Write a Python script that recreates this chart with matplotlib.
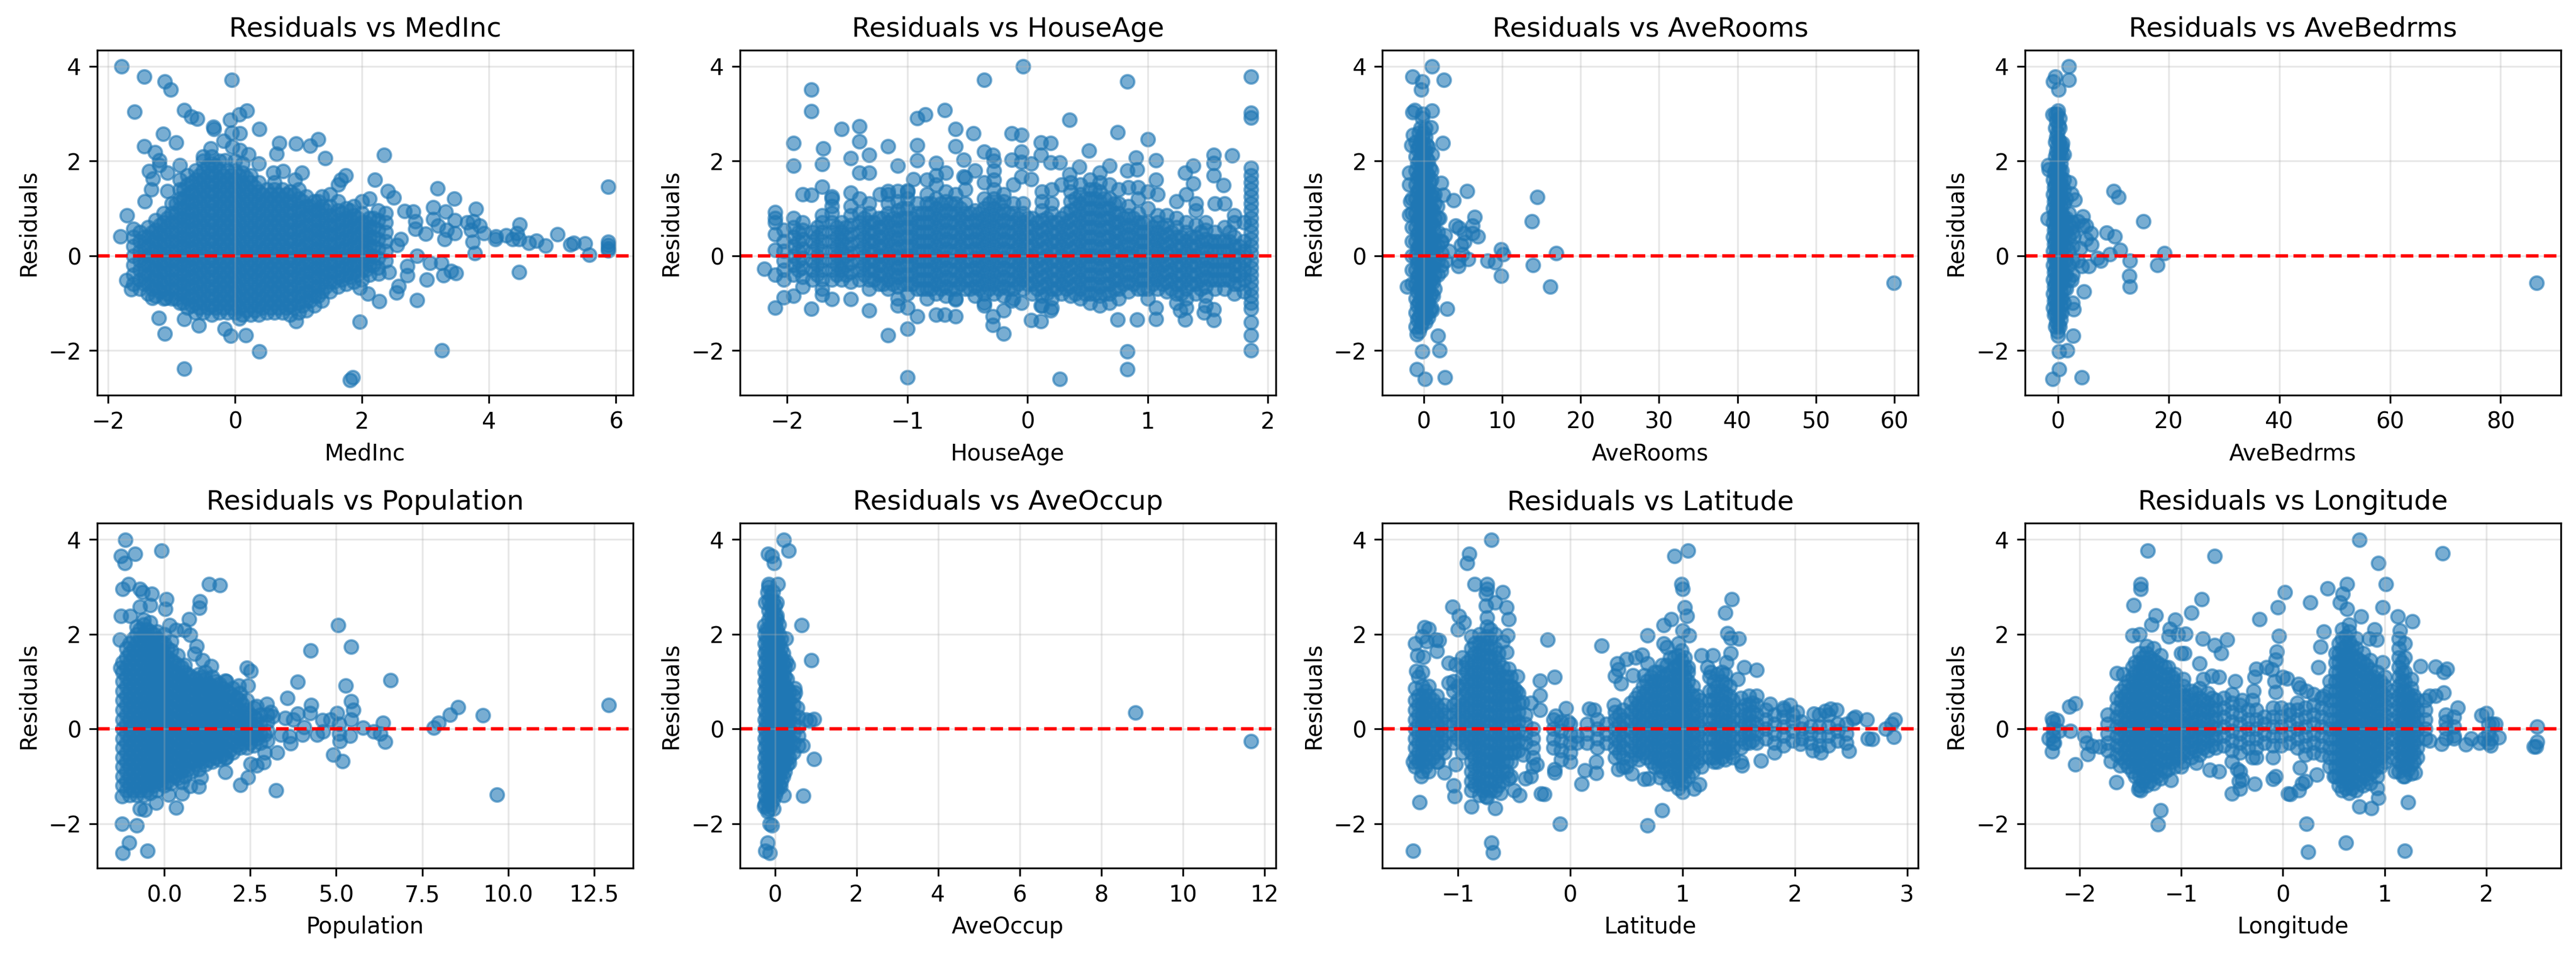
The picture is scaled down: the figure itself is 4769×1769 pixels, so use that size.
import matplotlib
matplotlib.use("Agg")
import matplotlib.pyplot as plt

features = ["MedInc", "HouseAge", "AveRooms", "AveBedrms", "Population", "AveOccup", "Latitude", "Longitude"]

# single points: (feature value, residual)
medinc_points = [(-1.79,4.0),(-1.43,3.78),(-1.11,3.68),(-1.01,3.51),(-.05,3.71),(-1.58,3.04),(-.8,3.08),(-.69,2.94),(-.6,2.89),(-.08,2.87),(.07,2.98),(.19,3.06),
    (-.34,2.72),(-.33,2.68),(.38,2.68),(-1.13,2.57),(-.93,2.39),(-.05,2.6),(.08,2.58),(-.18,2.42),(-.04,2.3),(-1.43,2.31),(-1.26,2.19),(.7,2.38),(.96,2.37),(1.18,2.32),
    (1.31,2.46),(1.42,2.06),(2.35,2.13),(.65,2.15),(-1.19,2.01),(2.2,1.6),(2.41,1.36),(2.5,1.23),(1.74,1.7),(1.67,1.6),(3.19,1.42),(3.45,1.21),(3.12,1.02),(3.32,.93),
    (3.79,.99),(5.88,1.46),(3.12,.77),(3.46,.75),(2.81,.93),(2.67,.94),(2.84,.73),(2.84,.57),(3.0,.47),(3.2,.64),(3.33,.54),(3.3,.35),(3.46,.48),(3.66,.7),(3.75,.73),
    (3.72,.54),(3.85,.64),(3.92,.48),(3.74,.29),(3.78,.06),(4.1,.35),(4.11,.41),(4.27,.43),(4.37,.35),(4.44,.48),(4.48,.66),(4.47,.35),(4.63,.27),(4.75,.32),(4.89,.21),
    (5.08,.45),(5.28,.24),(5.33,.27),(5.51,.26),(5.58,.02),(5.88,.29),(5.88,.22),(5.88,.16),(5.88,.11),(4.47,-.34),(2.87,0),(3.07,-.15),(3.25,-.15),(3.4,-.32),(3.28,-.41),
    (3.48,-.37),(3.02,-.5),(2.71,-.22),(2.71,-.41),(2.58,-.64),(2.54,-.78),(2.87,-.94),(2.27,-.96),(2.09,-.8),(1.96,-.67),(2.61,.35),(2.55,.22),(2.42,-.35),(2.26,-.38),
    (-1.2,-1.31),(-1.11,-1.64),(-.8,-1.34),(-.57,-1.47),(-.16,-1.54),(-.07,-1.69),(.17,-1.68),(.07,-1.32),(.96,-1.38),(1.96,-1.39),(.38,-2.02),(3.26,-2.0),(-.8,-2.39),
    (1.85,-2.57),(1.81,-2.62),(-1.8,.41),(-1.7,.85),(-1.6,.57),(-1.71,-.51),(-1.63,-.71),(-1.3,-.89),(-1.09,-.89),(-1.42,1.15),(-1.32,1.4),(-1.29,1.63),(-1.35,1.79),
    (-1.06,1.75),(-1.19,1.91),(-1.06,1.36),(-.87,1.91),(-.87,1.6),(1.05,1.75),(.94,1.6),(.76,1.79),(.37,1.95),(.21,2.14),(.08,2.23),(-.15,2.01),(-.38,2.27),(-.5,2.1),(.6,1.75)]
houseage_points = [(-.04,4.0),(-.36,3.71),(.83,3.68),(1.86,3.78),(-1.8,3.51),(-1.8,3.05),(-.69,3.07),(-.85,2.98),(-.92,2.9),(1.86,3.02),(1.86,2.92),(.35,2.87),(-1.4,2.73),
    (-1.55,2.68),(-.6,2.68),(-.45,2.59),(-.13,2.58),(-.05,2.55),(.75,2.61),(1.0,2.46),(-1.4,2.41),(-1.95,2.38),(-1.7,2.27),(-1.16,2.31),(-.92,2.33),(-.6,2.31),(.11,2.39),
    (.19,2.38),(.51,2.22),(-.36,2.2),(-.05,2.2),(-1.47,2.06),(-1.32,2.13),(-.92,2.02),(-.53,2.03),(-.29,2.13),(.11,2.13),(.9,2.07),(1.07,2.01),(1.55,2.13),(1.7,2.12),
    (-1.95,1.9),(-1.71,1.93),(-1.08,1.9),(-.76,1.96),(-.13,2.03),(-.05,1.98),(.03,1.95),(.19,1.97),(.27,1.97),(.43,1.88),(.68,1.9),(.83,1.8),(.91,1.82),(1.38,1.9),(1.55,1.96),
    (1.31,1.75),(-1.4,1.75),(-1.32,1.75),(-.95,1.62),(-.53,1.67),(-.44,1.8),(-.05,1.67),(.03,1.62),(.35,1.72),(1.07,1.6),(1.38,1.52),(1.55,1.69),(1.63,1.49),(-1.71,1.46),
    (-1.87,1.3),(-1.8,1.28),(-1.63,1.25),(-1.47,1.33),(-1.23,1.3),(-1.16,1.36),(-1.08,1.36),(-1.0,1.38),(-2.1,.92),(-2.1,.8),(-2.1,.7),(-2.1,.45),(-2.1,.12),(-2.19,-.28),
    (-2.1,-.4),(-2.03,-.88),(-1.95,-.85),(-2.1,-1.1),(-1.8,-1.12),(-1.71,-.82),(-1.63,-.92),(-1.47,-.92),(-1.32,-1.15),(-1.08,-.9),(-1.08,-1.05),(-1.0,-1.1),(-.92,-1.28),
    (-.76,-1.25),(-.69,-1.25),(-.6,-1.28),(-.6,-.93),(-.36,-1.05),(-.29,-1.28),(-.29,-1.46),(-.2,-1.15),(-.13,-.95),(-.05,-1.0),(.03,-1.36),(.11,-1.38),(.11,-1.05),(.19,-1.15),
    (.75,-1.35),(.91,-1.35),(1.07,-1.34),(1.07,-1.1),(1.27,-1.15),(1.31,-1.35),(1.47,-1.2),(1.55,-1.36),(1.55,-1.13),(-1.16,-1.68),(-1.0,-1.54),(-.2,-1.64),(.83,-2.02),
    (1.86,-1.68),(1.86,-2.0),(1.86,-1.4),(1.86,-1.12),(.83,-2.4),(-1.0,-2.57),(.27,-2.6)]
averooms_points = [(1.05,4.0),(-1.42,3.78),(-.2,3.68),(-.3,3.51),(2.58,3.71),(1.05,3.06),(-1.42,3.03),(-1.16,3.08),(-.1,3.0),(.95,2.71),(2.42,2.38),(1.05,2.14),(-1.58,2.33),
    (-1.37,2.55),(2.26,1.54),(2.53,1.28),(3.79,1.17),(5.53,1.36),(14.47,1.24),(6.47,.82),(13.79,.73),(6.21,.64),(4.1,.64),(4.53,.59),(5.16,.48),(6.2,.48),(6.9,.41),(2.68,.43),
    (5.16,.29),(4.79,.22),(4.9,.03),(9.9,.13),(10.16,.03),(16.9,.06),(5.68,-.07),(8.16,-.11),(9.1,-.14),(4.42,-.11),(4.42,-.22),(13.9,-.2),(9.9,-.43),(16.16,-.65),(59.95,-.57),
    (3,-1.12),(1.05,-1.15),(1.84,-1.69),(-.84,-1.66),(2,-2.0),(-.16,-2.02),(-.9,-2.4),(.16,-2.6),(2.74,-2.57),(-2.1,-.65),(2.26,-.32),(2.79,-.1),(3.2,.1),(2.26,.29),(2,.8),
    (1.74,1.05),(-1.68,1.15),(-1.84,1.75),(-1.8,1.5),(-1.84,.86)]
avebedrms_points = [(2,4),(-.5,3.78),(-.9,3.68),(1.94,3.71),(.07,3.51),(0,3.06),(-1,2.98),(.75,2.38),(1.1,2.14),(-1.8,1.91),(-1.64,1.82),(2.1,1.55),(2.46,1.31),(3,1.18),(10.07,1.36),
    (10.9,1.24),(15.45,.73),(4.48,.83),(-1.87,.78),(3.6,.73),(5.07,.64),(4.5,.64),(5.97,.48),(8.8,.49),(10.3,.41),(6.04,.24),(5.07,.35),(11.27,.12),(9.33,.03),(19.25,.06),(7.16,-.05),
    (7.69,-.1),(13,-.11),(5.52,-.22),(18,-.2),(12.9,-.43),(13,-.65),(4.7,-.76),(2.46,-.51),(2.6,-.99),(2.84,-1.13),(2.76,-1.69),(86.5,-.57),(.22,-2.02),(1.7,-2.0),(.22,-2.4),
    (-.97,-2.6),(4.25,-2.57),(0,-1.69),(4.3,-.22),(3.6,-.1),(3.96,.16),(2.84,.41),(2.46,.6)]
population_points = [(-1.13,3.99),(-1.25,3.65),(-.84,3.69),(-1.14,3.5),(-.07,3.76),(-1.04,3.06),(-1.21,2.95),(-.71,2.95),(-.62,2.89),(-.36,2.85),(.07,2.74),(.04,2.53),(1.04,2.69),(1.02,2.55),
    (1.31,3.06),(1.62,3.03),(-.71,2.58),(-.41,2.61),(-1.26,2.38),(-.98,2.38),(.72,2.31),(.16,2.19),(.34,2.09),(.58,2.09),(.76,1.98),(.94,1.74),(.88,1.58),(1.12,1.45),(-1.28,1.88),
    (-1.27,1.29),(1.36,1.32),(2.4,1.29),(2.51,1.22),(2.17,.91),(2.44,.91),(1.78,1.02),(5.06,2.19),(5.44,1.73),(4.25,1.65),(3.88,.99),(6.58,1.03),(5.27,.91),(5.44,.58),(5.49,.4),(5.44,.19),
    (3.58,.65),(4.27,.5),(4.24,.33),(2.68,.48),(2.98,.53),(3.1,.35),(3.52,.23),(3.88,.32),(3.76,.19),(4.06,.03),(4.02,-.12),(4.44,-.13),(4.6,.18),(4.62,-.06),(4.84,.19),(5.02,.33),(5.08,.1),
    (5.08,-.1),(5.1,-.26),(5.4,-.15),(5.78,.02),(6.1,-.06),(6.28,-.1),(6.36,.13),(6.42,-.27),(7.84,.02),(7.98,.13),(8.3,.3),(8.54,.46),(9.26,.29),(12.92,.5),(9.67,-1.39),(3.25,-1.3),(4.91,-.55),
    (5.18,-.68),(3.67,-.31),(3.64,-.16),(3.28,-.5),(2.92,-.5),(2.89,-.71),(2.52,-.74),(2.68,-.77),(2.44,-1.03),(2.22,-1.19),(1.77,-.91),(1.78,-.61),(1.07,-1.03),(1,-1.22),(.76,-1.21),(.52,-1.37),
    (.52,-1.13),(.12,-1.39),(.35,-1.66),(-.23,-1.56),(-.56,-1.71),(-.71,-1.69),(-1.22,-1.42),(-1.22,-2),(-.8,-2.04),(-1.02,-2.4),(-1.21,-2.62),(-.48,-2.57),(2.92,-.13),(3.4,-.13),(3.16,.26)]
aveoccup_points = [(.22,3.99),(.34,3.76),(-.16,3.69),(-.08,3.65),(-.02,3.5),(.07,3.06),(-.15,3.06),(-.18,2.89),(-.23,2.67),(.04,2.67),(.66,2.19),(-.26,2.18),(.27,1.9),(.89,1.45),(.27,1.42),(.32,1.34),
    (.48,.86),(.5,.76),(.55,.45),(.76,.19),(.96,.21),(.85,.17),(8.84,.34),(11.67,-.26),(.68,-.35),(.35,-.72),(.96,-.64),(.7,-1.41),(.22,-1.4),(.14,-1.22),(-.04,-1.69),(-.26,-1.64),(-.18,-1.74),
    (-.13,-2),(-.08,-2.04),(-.18,-2.4),(-.23,-2.57),(-.13,-2.62)]
latitude_points = [(-.7,3.99),(-.9,3.69),(-.92,3.5),(.93,3.65),(1.05,3.76),(-.85,3.06),(-.74,3.06),(-.74,2.95),(-.75,2.85),(-.6,2.89),(.99,3.05),(1,2.95),(1.44,2.74),(-.67,2.67),(-.57,2.56),(-1.05,2.58),
    (-.99,2.38),(-.95,2.25),(-1.0,2.1),(-.55,2.31),(-.75,2.6),(1.02,2.57),(1.04,2.38),(.9,2.32),(1.38,2.45),(.83,2.19),(-1.3,2.14),(-1.26,2.11),(-1.32,1.95),(-1.28,1.85),(-1.2,1.88),(-1.17,1.87),
    (-1.38,1.8),(-1.36,1.55),(-1.31,1.52),(-1.19,1.64),(-.56,1.97),(-.6,1.85),(-.57,1.62),(-.55,1.27),(-.47,1.11),(.69,1.97),(1.0,2.08),(1.06,1.97),(1.4,2.02),(1.43,1.92),(1.5,1.9),(1.43,1.6),
    (1.39,1.4),(1.55,1.3),(1.66,1.24),(1.49,1.05),(-.2,1.88),(.28,1.76),(.42,1.38),(.43,1.25),(.4,1.12),(.45,.96),(.5,1.47),(.58,1.5),(.64,1.56),(.69,1.38),(.56,1.13),(.66,1.13),(.83,1.8),(.86,1.72),
    (1.17,1.55),(1.27,1.55),(1.22,1.3),(1.25,1.2),(-1.37,1.22),(-1.35,1.1),(-1.08,1.39),(-1.02,1.36),(-1.08,.97),(-.14,1.1),(-.27,1.02),(-.27,.71),(-.27,.4),(-.35,.55),(-.43,.56),(-.48,.8),(-.04,.43),
    (-.13,.27),(-.02,.15),(.17,.42),(.21,.4),(.39,.5),(1.78,.52),(1.96,.5),(1.9,.45),(2.02,.35),(2.17,.32),(2.27,.38),(2.32,.42),(2.37,.4),(2.52,.22),(2.54,.25),(2.64,.2),(2.89,.2),(2.86,.1),(2.81,0),
    (2.88,-.17),(2.65,-.2),(2.69,-.22),(2.48,-.47),(2.23,-.5),(2.16,-.45),(2.05,-.32),(1.82,-.5),(1.7,-.67),(1.53,-.77),(1.37,-.45),(-1.33,-1.0),(-1.12,-.92),(-1.18,-.7),(-1.02,-.75),(-1.4,-.7),(-1.04,-1.2),
    (-1.03,-1.42),(-.88,-1.64),(-.67,-1.68),(-.75,-1.42),(-1.34,-1.55),(-.09,-2),(.69,-2.04),(.82,-1.72),(-.7,-2.4),(-.69,-2.61),(-1.4,-2.58),(-.45,-1.4),(-.5,-1.3),(-.4,-1.05),(-.35,-1.0),(-.26,-1.37),(-.23,-1.38),
    (-.3,-.75),(-.14,-.85),(-.14,-.92),(.1,-1.16),(.13,-.88),(.23,-.93),(.23,-.7),(.55,-.95),(.66,-1.06),(.7,-1.05),(.8,-1.02),(.87,-1.16),(1.0,-1.33),(1.1,-1.27),(1.15,-1.17),(1.17,-.8),(-.55,-1.05),(-.62,-1.35),
    (-.42,-.55),(-.66,-.6),(.43,-.85),(.5,-.8),(1.28,-.7),(-.53,-1.0)]
longitude_points = [(.75,3.99),(-1.33,3.76),(-.67,3.65),(1.57,3.7),(.94,3.5),(-1.4,3.06),(-1.4,2.95),(.63,3.06),(1.01,3.05),(.02,2.89),(.44,2.96),(.59,2.85),(-.8,2.74),(-1.47,2.61),(.27,2.67),(.56,2.67),
    (.63,2.53),(.98,2.56),(-.05,2.57),(-.9,2.45),(-1.25,2.4),(-1.06,2.3),(-1.29,2.2),(-.23,2.31),(.77,2.37),(1.13,2.37),(1.27,2.27),(-1.11,2.11),(-1.12,1.95),(-1.48,1.97),(-1.41,2.0),(-1.03,2),(-.96,2.01),(-.04,1.96),
    (.4,2.05),(.9,2.1),(.85,1.9),(.92,1.88),(1.15,2.08),(-.79,1.9),(-.67,1.77),(-.55,1.88),(-.61,1.6),(-.97,1.6),(-1.0,1.6),(-.82,1.38),(-.06,1.63),(-.07,1.46),(.37,1.73),(.35,1.3),(.98,1.4),(1.35,1.32),(1.5,1.31),
    (1.58,1.2),(1.61,1.27),(-1.63,1.17),(-1.57,1.15),(-.26,1.27),(-.28,1.1),(-.16,1.3),(-.11,1.25),(-.08,1.0),(.0,1.1),(.04,1.06),(-.7,1.12),(-.63,1.1),(-.78,1.05),(-.47,1.0),(-.07,.78),(.15,.95),(.17,.87),(.23,.8),(.3,.73),
    (.4,.7),(-.29,.8),(-.3,.6),(-.4,.6),(-.5,.73),(1.44,.7),(1.5,.7),(1.58,.77),(1.72,.45),(1.6,.3),(1.68,.25),(1.95,.28),(2.0,.33),(2.06,.1),(2.09,.1),(-2.1,.47),(-2.04,.54),(-2.27,.22),(-2.22,.18),(-2.3,-.2),(-2.25,-.3),
    (-2.27,-.48),(-2.2,-.05),(-2.09,-.05),(-1.95,-.15),(-1.93,-.3),(-1.8,-.38),(-1.87,-.36),(-1.72,-.45),(-2.04,-.75),(-1.92,-.53),(-1.69,-.68),(-1.6,-.77),(-1.64,-1.13),(2.5,.05),(2.5,-.27),(2.47,-.37),(2.49,-.38),
    (2.12,-.18),(2.05,-.2),(2.04,-.35),(1.98,-.2),(1.93,-.3),(1.8,-.33),(1.85,-.2),(1.68,-.2),(1.56,-.32),(1.44,-.25),(1.23,-1.55),(.87,-1.68),(.75,-1.64),(.94,-1.46),(.93,-1.25),(.23,-2),(.62,-2.4),(.25,-2.6),(1.2,-2.57),
    (-1.23,-2.02),(-1.2,-1.72),(-.5,-1.37),(-.42,-1.27),(-.28,-1.16),(-.1,-1.06),(-.07,-1.0),(.05,-1.37),(.07,-1.38),(.16,-1.3),(.19,-1.15),(.22,-1.1),(.33,-.97),(.17,-.82),(.5,-1.0),(-.72,-.87),(-.63,-.9),(-1.0,-.8),(-.85,-.72),
    (-.5,-.7),(-.45,-.85),(-.43,-1.1),(-.4,-1.07),(-.42,-.9),(-.3,-.6),(-.1,-.6),(1.1,-.9),(1.18,-1.0),(1.3,-.92),(-1.42,-1.28),(-1.4,-1.3),(-1.1,-1.08)]

# dense clouds: one row per feature value, with the residuals seen at that value
medinc_cloud = [(-1.6,[-.6,-.4,-.2,0,.2,.4]),(-1.5,[-.7,-.5,-.3,-.1,.1,.3,.5]),(-1.37,[-.8,-.6,-.4,-.2,0,.2,.4,.6]),(-1.25,[-.85,-.65,-.45,-.25,-.05,.15,.35,.55,.75]),
    (-1.12,[-.9,-.7,-.5,-.3,-.1,.1,.3,.5,.7,.9]),(-1,[-.9,-.7,-.5,-.3,-.1,.1,.3,.5,.7,.9,1.1]),(-.87,[-1,-.8,-.6,-.4,-.2,0,.2,.4,.6,.8,1,1.2,1.4]),
    (-.75,[-1.1,-.9,-.7,-.5,-.3,-.1,.1,.3,.5,.7,.9,1.1,1.3,1.5,1.7]),(-.62,[-1.2,-1,-.8,-.6,-.4,-.2,0,.2,.4,.6,.8,1,1.2,1.4,1.6,1.8]),
    (-.5,[-1.2,-1,-.8,-.6,-.4,-.2,0,.2,.4,.6,.8,1,1.2,1.4,1.6,1.8,2]),(-.37,[-1.25,-1.05,-.85,-.65,-.45,-.25,-.05,.15,.35,.55,.75,.95,1.15,1.35,1.55,1.75,1.95,2.1]),
    (-.25,[-1.2,-1,-.8,-.6,-.4,-.2,0,.2,.4,.6,.8,1,1.2,1.4,1.6,1.8,2]),(-.12,[-1.2,-1,-.8,-.6,-.4,-.2,0,.2,.4,.6,.8,1,1.2,1.4,1.6,1.8]),
    (0,[-1.2,-1,-.8,-.6,-.4,-.2,0,.2,.4,.6,.8,1,1.2,1.4,1.6,1.8,2]),(.12,[-1.25,-1.05,-.85,-.65,-.45,-.25,-.05,.15,.35,.55,.75,.95,1.15,1.35,1.55,1.75,1.95]),
    (.25,[-1.25,-1.05,-.85,-.65,-.45,-.25,-.05,.15,.35,.55,.75,.95,1.15,1.35,1.55,1.7]),(.37,[-1.25,-1.05,-.85,-.65,-.45,-.25,-.05,.15,.35,.55,.75,.95,1.15,1.35,1.55]),
    (.5,[-1.2,-1,-.8,-.6,-.4,-.2,0,.2,.4,.6,.8,1,1.2,1.4]),(.62,[-1.2,-1,-.8,-.6,-.4,-.2,0,.2,.4,.6,.8,1,1.2,1.4,1.55]),(.75,[-1.2,-1,-.8,-.6,-.4,-.2,0,.2,.4,.6,.8,1,1.2,1.4]),
    (.87,[-1.25,-1.05,-.85,-.65,-.45,-.25,-.05,.15,.35,.55,.75,.95,1.15,1.35]),(1,[-1.2,-1,-.8,-.6,-.4,-.2,0,.2,.4,.6,.8,1,1.2,1.4]),(1.12,[-1.15,-.95,-.75,-.55,-.35,-.15,.05,.25,.45,.65,.85,1.05,1.25]),
    (1.25,[-1.05,-.85,-.65,-.45,-.25,-.05,.15,.35,.55,.75,.95,1.15]),(1.37,[-.95,-.75,-.55,-.35,-.15,.05,.25,.45,.65,.85,1.05,1.25]),(1.5,[-.75,-.55,-.35,-.15,.05,.25,.45,.65,.85,1.05,1.3]),
    (1.62,[-.65,-.45,-.25,-.05,.15,.35,.55,.75,.95,1.15,1.5]),(1.75,[-.6,-.4,-.2,0,.2,.4,.6,.8,1]),(1.87,[-.55,-.35,-.15,.05,.25,.45,.65,.85,1.05]),(2,[-.5,-.3,-.1,.1,.3,.5,.7,.9,1.15]),
    (2.12,[-.4,-.2,0,.2,.4,.6,.8,1.2]),(2.25,[-.25,-.05,.15,.35,.55,.75,.95]),(2.37,[-.1,.1,.3,.5,.7,.9])]
houseage_cloud = [(-2.03,[-.5,-.3,-.1,.1,.3,.55]),(-1.95,[-.4,-.2,0,.2,.4,.6,.8]),(-1.87,[-.65,-.45,-.25,-.05,.15,.35,.55,.7]),(-1.79,[-.5,-.3,-.1,.1,.3,.5]),(-1.71,[-.7,-.5,-.3,-.1,.1,.3,.5,.7,.85]),
    (-1.63,[-.5,-.3,-.1,.1,.3,.5,.7,.9,1.05,1.2]),(-1.55,[-.5,-.3,-.1,.1,.3,.5,.7]),(-1.47,[-.55,-.35,-.15,.05,.25,.45,.65,.85,1.05]),(-1.4,[-.5,-.3,-.1,.1,.3,.5,.7,.9,1.2]),(-1.32,[-.7,-.5,-.3,-.1,.1,.3,.5,.7,.9,1.1]),
    (-1.24,[-.6,-.4,-.2,0,.2,.4,.6,.8]),(-1.16,[-.7,-.5,-.3,-.1,.1,.3,.5,.7,.9,1.1,1.3]),(-1.08,[-.65,-.45,-.25,-.05,.15,.35,.55,.75,.95,1.15]),(-1,[-.8,-.6,-.4,-.2,0,.2,.4,.6,.8,1,1.2,1.35]),
    (-.92,[-.7,-.5,-.3,-.1,.1,.3,.5,.7,.9,1.1]),(-.84,[-.9,-.7,-.5,-.3,-.1,.1,.3,.5,.7,.9,1.1,1.3,1.6]),(-.76,[-.8,-.6,-.4,-.2,0,.2,.4,.6,.8,1,1.2,1.5,1.7]),(-.68,[-.85,-.65,-.45,-.25,-.05,.15,.35,.55,.75,.95,1.15,1.35,1.75]),
    (-.6,[-.9,-.7,-.5,-.3,-.1,.1,.3,.5,.7,.9,1.1,1.3]),(-.52,[-.7,-.5,-.3,-.1,.1,.3,.5,.7,.9,1.1,1.4,1.65]),(-.44,[-.85,-.65,-.45,-.25,-.05,.15,.35,.55,.75,.95]),(-.36,[-1,-.8,-.6,-.4,-.2,0,.2,.4,.6,.8,1,1.2,1.55]),
    (-.28,[-.8,-.6,-.4,-.2,0,.2,.4,.6,.8,1,1.2,1.4,1.6,1.8,2]),(-.2,[-.85,-.65,-.45,-.25,-.05,.15,.35,.55,.75,.95,1.15,1.3]),(-.12,[-.9,-.7,-.5,-.3,-.1,.1,.3,.5,.7,.9,1.1,1.5]),
    (-.04,[-.7,-.5,-.3,-.1,.1,.3,.5,.7,.9,1.1]),(.04,[-.8,-.6,-.4,-.2,0,.2,.4,.6,.8]),(.12,[-1.05,-.85,-.65,-.45,-.25,-.05,.15,.35,.55,.75,.95,1.15,1.35]),(.2,[-1.1,-.9,-.7,-.5,-.3,-.1,.1,.3,.5,.7,.9,1.1,1.4]),
    (.28,[-.8,-.6,-.4,-.2,0,.2,.4,.6,.8,1.5]),(.36,[-.85,-.65,-.45,-.25,-.05,.15,.35,.55,.75,.95,1.15,1.35,1.55]),(.44,[-.9,-.7,-.5,-.3,-.1,.1,.3,.5,.7,.9,1.1,1.3,1.5]),(.52,[-1,-.8,-.6,-.4,-.2,0,.2,.4,.6,.8,1,1.2,1.4,1.6]),
    (.6,[-1.05,-.85,-.65,-.45,-.25,-.05,.15,.35,.55,.75,.95,1.15,1.35,1.55,1.75]),(.68,[-1,-.8,-.6,-.4,-.2,0,.2,.4,.6,.8,1,1.2,1.5]),(.76,[-.9,-.7,-.5,-.3,-.1,.1,.3,.5,.7,.9,1.1,1.4]),
    (.84,[-.75,-.55,-.35,-.15,.05,.25,.45,.65,.85,1.05,1.45]),(.92,[-.7,-.5,-.3,-.1,.1,.3,.5,.7,.9,1.2,1.45]),(1,[-.9,-.7,-.5,-.3,-.1,.1,.3,.5,.7,1,1.35]),(1.08,[-.7,-.5,-.3,-.1,.1,.3,.5,.7,.85,1.3]),
    (1.16,[-.75,-.55,-.35,-.15,.05,.25,.45,.65,.85]),(1.24,[-1,-.8,-.6,-.4,-.2,0,.2,.4,.6,.8,1.15]),(1.32,[-1.1,-.9,-.7,-.5,-.3,-.1,.1,.3,.5,.7,1.3]),(1.4,[-.8,-.6,-.4,-.2,0,.2,.4,.65,.95,1.1]),
    (1.48,[-1.05,-.85,-.65,-.45,-.25,-.05,.15,.35,.55,.7]),(1.56,[-.7,-.5,-.3,-.1,.1,.3,.5,1.1]),(1.64,[-.7,-.5,-.3,-.1,.1,.3,.6,1.1]),(1.72,[-.8,-.6,-.4,-.2,0,.2,.4,.7,.85]),(1.8,[-.75,-.5,-.3,-.1,.1,.3,.7]),
    (1.86,[-1,-.85,-.7,-.55,-.4,-.25,-.1,.05,.2,.35,.5,.65,.8,.95,1.1,1.25,1.4,1.55,1.7,1.85])]
averooms_cloud = [(-1.5,[-.6,-.3,0,.3,.6,.9,1.2]),(-1,[-1.5,-1.2,-.9,-.6,-.3,0,.3,.6,.9,1.2,1.5,1.8,2.1,2.4]),(-.6,[-1.6,-1.3,-1,-.7,-.4,-.1,.2,.5,.8,1.1,1.4,1.7,2,2.3,2.6]),
    (-.2,[-1.4,-1.1,-.8,-.5,-.2,.1,.4,.7,1,1.3,1.6,1.9,2.2,2.5,2.9]),(.2,[-1.4,-1.1,-.8,-.5,-.2,.1,.4,.7,1,1.3,1.6,1.9,2.2,2.5,2.7]),(.6,[-1.3,-1,-.7,-.4,-.1,.2,.5,.8,1.1,1.4,1.7,2,2.3]),
    (1,[-1.1,-.8,-.5,-.2,.1,.4,.7,1,1.3,1.6,1.8]),(1.4,[-.7,-.4,-.1,.2,.5,.8,1.1,1.3]),(1.8,[-.4,-.1,.2,.5,.8]),(2.3,[-.2,.05,.3]),
    (-.8,[-1.35,-1.05,-.75,-.45,-.15,.15,.45,.75,1.05,1.35,1.65,1.95,2.25]),(-.4,[-1.5,-1.2,-.9,-.6,-.3,0,.3,.6,.9,1.2,1.5,1.8,2.1,2.4,2.7]),(0,[-1.3,-1,-.7,-.4,-.1,.2,.5,.8,1.1,1.4,1.7,2,2.3,2.6]),
    (.4,[-1.25,-.95,-.65,-.35,-.05,.25,.55,.85,1.15,1.45,1.75,2.05,2.35]),(.8,[-1.15,-.85,-.55,-.25,.05,.35,.65,.95,1.25,1.55,1.85]),(1.2,[-.85,-.55,-.25,.05,.35,.65,.95,1.25])]
avebedrms_cloud = [(-.9,[-1.1,-.8,-.5,-.2,.1,.4,.7,1,1.3,1.6]),(-.5,[-1.5,-1.2,-.9,-.6,-.3,0,.3,.6,.9,1.2,1.5,1.8,2.1,2.4,2.7,3]),(-.1,[-1.6,-1.3,-1,-.7,-.4,-.1,.2,.5,.8,1.1,1.4,1.7,2,2.3,2.6,3]),
    (.3,[-1.5,-1.2,-.9,-.6,-.3,0,.3,.6,.9,1.2,1.5,1.8,2.1,2.4,2.7,2.9]),(.7,[-1.2,-.9,-.6,-.3,0,.3,.6,.9,1.2,1.5,1.8,2.1,2.3]),(1.1,[-1,-.7,-.4,-.1,.2,.5,.8,1.1,1.4,1.6]),(1.5,[-.7,-.4,-.1,.2,.5,.8,1.2]),
    (2,[-.5,-.2,.1,.4,.7,.9]),(2.6,[-.4,-.1,.2,.5,.7]),(-.3,[-1.4,-1.1,-.8,-.5,-.2,.1,.4,.7,1,1.3,1.6,1.9,2.2,2.5,2.85]),(.1,[-1.45,-1.15,-.85,-.55,-.25,.05,.35,.65,.95,1.25,1.55,1.85,2.15,2.45,2.75]),
    (.5,[-1.35,-1.05,-.75,-.45,-.15,.15,.45,.75,1.05,1.35,1.65,1.95,2.25]),(-.7,[-1.25,-.95,-.65,-.35,-.05,.25,.55,.85,1.15,1.45,1.75])]
population_cloud = [(-1.2,[-1.2,-1,-.8,-.6,-.4,-.2,0,.2,.4,.6,.8,1,1.2,1.4]),(-1,[-1.4,-1.2,-1,-.8,-.6,-.4,-.2,0,.2,.4,.6,.8,1,1.2,1.4,1.6,1.8]),(-.8,[-1.4,-1.2,-1,-.8,-.6,-.4,-.2,0,.2,.4,.6,.8,1,1.2,1.4,1.6,1.8,2,2.15]),
    (-.6,[-1.4,-1.2,-1,-.8,-.6,-.4,-.2,0,.2,.4,.6,.8,1,1.2,1.4,1.6,1.8,2,2.2,2.3]),(-.4,[-1.35,-1.15,-.95,-.75,-.55,-.35,-.15,.05,.25,.45,.65,.85,1.05,1.25,1.45,1.65,1.85,2.05,2.25]),(-.2,[-1.3,-1.1,-.9,-.7,-.5,-.3,-.1,.1,.3,.5,.7,.9,1.1,1.3,1.5,1.7,1.9,2.05]),
    (0,[-1.2,-1,-.8,-.6,-.4,-.2,0,.2,.4,.6,.8,1,1.2,1.4,1.6,1.8,2]),(.2,[-1.15,-.95,-.75,-.55,-.35,-.15,.05,.25,.45,.65,.85,1.05,1.25,1.45,1.65,1.85]),(.4,[-1.05,-.85,-.65,-.45,-.25,-.05,.15,.35,.55,.75,.95,1.15,1.35,1.55]),
    (.6,[-1,-.8,-.6,-.4,-.2,0,.2,.4,.6,.8,1,1.2,1.35]),(.8,[-.9,-.7,-.5,-.3,-.1,.1,.3,.5,.7,.9,1.1]),(1,[-.85,-.65,-.45,-.25,-.05,.15,.35,.55,.75,.95,1.15]),(1.2,[-.75,-.55,-.35,-.15,.05,.25,.45,.65,.85,1.05,1.2]),
    (1.4,[-.7,-.5,-.3,-.1,.1,.3,.5,.7,.9,1.1]),(1.6,[-.65,-.45,-.25,-.05,.15,.35,.55,.75,.95]),(1.8,[-.6,-.4,-.2,0,.2,.4,.6,.8,1]),(2,[-.5,-.3,-.1,.1,.3,.5,.7,.85]),(2.2,[-.4,-.2,0,.2,.4,.6,.75]),(2.4,[-.4,-.2,0,.2,.4,.6]),
    (2.6,[-.35,-.15,.05,.25,.45]),(2.8,[-.3,-.1,.1,.3]),(3,[-.25,-.05,.15,.3]),
    (-1.1,[-1.3,-1.1,-.9,-.7,-.5,-.3,-.1,.1,.3,.5,.7,.9,1.1,1.3,1.5,1.7]),(-.9,[-1.3,-1.1,-.9,-.7,-.5,-.3,-.1,.1,.3,.5,.7,.9,1.1,1.3,1.5,1.7,1.9]),(-.7,[-1.3,-1.1,-.9,-.7,-.5,-.3,-.1,.1,.3,.5,.7,.9,1.1,1.3,1.5,1.7,1.9,2.1]),
    (-.5,[-1.3,-1.1,-.9,-.7,-.5,-.3,-.1,.1,.3,.5,.7,.9,1.1,1.3,1.5,1.7,1.9,2.1]),(-.3,[-1.2,-1,-.8,-.6,-.4,-.2,0,.2,.4,.6,.8,1,1.2,1.4,1.6,1.8,2]),(-.1,[-1.15,-.95,-.75,-.55,-.35,-.15,.05,.25,.45,.65,.85,1.05,1.25,1.45,1.65,1.85]),
    (.1,[-1.1,-.9,-.7,-.5,-.3,-.1,.1,.3,.5,.7,.9,1.1,1.3,1.5,1.7]),(.3,[-1,-.8,-.6,-.4,-.2,0,.2,.4,.6,.8,1,1.2,1.4]),(.5,[-.9,-.7,-.5,-.3,-.1,.1,.3,.5,.7,.9,1.1,1.3]),(.7,[-.85,-.65,-.45,-.25,-.05,.15,.35,.55,.75,.95,1.15]),
    (.9,[-.75,-.55,-.35,-.15,.05,.25,.45,.65,.85,1.05]),(1.1,[-.7,-.5,-.3,-.1,.1,.3,.5,.7,.9,1.1]),(1.3,[-.65,-.45,-.25,-.05,.15,.35,.55,.75,.95]),(1.5,[-.6,-.4,-.2,0,.2,.4,.6,.8,1]),(1.7,[-.55,-.35,-.15,.05,.25,.45,.65,.85]),
    (1.9,[-.45,-.25,-.05,.15,.35,.55,.75]),(2.1,[-.35,-.15,.05,.25,.45,.65]),(2.3,[-.3,-.1,.1,.3,.5]),(2.5,[-.3,-.1,.1,.3]),(2.7,[-.2,0,.2])]
aveoccup_cloud = [(-.25,[-1.6,-1.4,-1.2,-1,-.8,-.6,-.4,-.2,0,.2,.4,.6,.8,1,1.2,1.4,1.6,1.8,2]),(-.15,[-1.7,-1.5,-1.3,-1.1,-.9,-.7,-.5,-.3,-.1,.1,.3,.5,.7,.9,1.1,1.3,1.5,1.7,1.9,2.1,2.3,2.5,2.7,3]),
    (-.05,[-1.5,-1.3,-1.1,-.9,-.7,-.5,-.3,-.1,.1,.3,.5,.7,.9,1.1,1.3,1.5,1.7,1.9,2.1,2.3,2.5,2.7,2.9]),(.05,[-1.3,-1.1,-.9,-.7,-.5,-.3,-.1,.1,.3,.5,.7,.9,1.1,1.3,1.5,1.7,1.9,2.1,2.3,2.4]),
    (.15,[-1.1,-.9,-.7,-.5,-.3,-.1,.1,.3,.5,.7,.9,1.1,1.3,1.5,1.7,1.9]),(.25,[-.9,-.7,-.5,-.3,-.1,.1,.3,.5,.7,.9,1.1,1.3]),(.35,[-.6,-.4,-.2,0,.2,.4,.6,.8]),(.45,[-.5,-.3,-.1,.1,.3,.5,.7]),(.58,[-.35,-.15,.05,.25]),
    (-.2,[-1.5,-1.3,-1.1,-.9,-.7,-.5,-.3,-.1,.1,.3,.5,.7,.9,1.1,1.3,1.5,1.7,1.9,2.1]),(-.1,[-1.6,-1.4,-1.2,-1,-.8,-.6,-.4,-.2,0,.2,.4,.6,.8,1,1.2,1.4,1.6,1.8,2,2.2,2.4,2.6,2.8]),
    (0,[-1.4,-1.2,-1,-.8,-.6,-.4,-.2,0,.2,.4,.6,.8,1,1.2,1.4,1.6,1.8,2,2.2,2.4,2.6]),(.1,[-1.2,-1,-.8,-.6,-.4,-.2,0,.2,.4,.6,.8,1,1.2,1.4,1.6,1.8,2,2.2]),(.2,[-1,-.8,-.6,-.4,-.2,0,.2,.4,.6,.8,1,1.2,1.4,1.6]),(.3,[-.75,-.55,-.35,-.15,.05,.25,.45,.65,.85,1.05])]
latitude_cloud = [(-1.38,[-.8,-.6,-.4,-.2,0,.2,.4,.6,.85]),(-1.32,[-.9,-.7,-.5,-.3,-.1,.1,.3,.5,.7,.9,1.2]),(-1.26,[-.9,-.7,-.5,-.3,-.1,.1,.3,.5,.7,.9]),(-1.19,[-.7,-.5,-.3,-.1,.1,.3,.5,.7]),(-1.12,[-.5,-.3,-.1,.1,.3,.5]),
    (-1.04,[-.3,-.1,.1,.3,.5,.8,1]),(-.96,[-.5,-.3,-.1,.1,.3,.5,.7,.9,1.1,1.3,1.5]),(-.88,[-1.3,-1.1,-.9,-.7,-.5,-.3,-.1,.1,.3,.5,.7,.9,1.1,1.3,1.5,1.7,1.95]),(-.81,[-1.4,-1.2,-1,-.8,-.6,-.4,-.2,0,.2,.4,.6,.8,1,1.2,1.4,1.6,1.8,2]),
    (-.74,[-1.45,-1.25,-1.05,-.85,-.65,-.45,-.25,-.05,.15,.35,.55,.75,.95,1.15,1.35,1.55,1.75,1.95,2.15,2.35]),(-.67,[-1.3,-1.1,-.9,-.7,-.5,-.3,-.1,.1,.3,.5,.7,.9,1.1,1.3,1.5,1.7,2]),(-.6,[-1.1,-.9,-.7,-.5,-.3,-.1,.1,.3,.5,.7,.9,1.1,1.3]),
    (-.53,[-.7,-.5,-.3,-.1,.1,.3,.5,.7,.9,1.1]),(-.46,[-.45,-.25,-.05,.15,.35,.55,.75]),(-.4,[-.3,-.1,.1,.3]),(-.33,[-.8,-.6,-.4,-.2,0]),(-.15,[-.4,-.2,0,.2]),(-.08,[-.65,-.45,-.25,-.05,.15]),(0,[-.7,-.5,-.3,-.1,.1]),(.06,[-.3,-.15]),
    (.15,[-.3,-.1,.1]),(.24,[-.4,-.2,0,.2]),(.32,[-.3,-.1,.1]),(.4,[-.6,-.4,-.2,0,.2,.35]),(.47,[-.8,-.6,-.4,-.2,0,.2,.4]),(.54,[-.65,-.45,-.25,-.05,.15,.35,.55]),(.61,[-.65,-.45,-.25,-.05,.15,.35,.55,.75]),
    (.68,[-.6,-.4,-.2,0,.2,.4,.6,.8,1]),(.75,[-.8,-.6,-.4,-.2,0,.2,.4,.6,.8,1,1.2]),(.82,[-.9,-.7,-.5,-.3,-.1,.1,.3,.5,.7,.9,1.1,1.35]),(.89,[-1,-.8,-.6,-.4,-.2,0,.2,.4,.6,.8,1,1.2,1.5]),
    (.96,[-1.25,-1.05,-.85,-.65,-.45,-.25,-.05,.15,.35,.55,.75,.95,1.15,1.35,1.55,1.8]),(1.02,[-1.1,-.9,-.7,-.5,-.3,-.1,.1,.3,.5,.7,.9,1.1,1.3,1.5]),(1.09,[-.9,-.7,-.5,-.3,-.1,.1,.3,.5,.7,.9]),(1.16,[-.6,-.4,-.2,0,.2,.4,.6]),
    (1.24,[-.6,-.4,-.2,0,.2,.4,.6,.8,1.1]),(1.31,[-.7,-.5,-.3,-.1,.1,.3,.5,.7,.9,1.15]),(1.38,[-.65,-.45,-.25,-.05,.15,.35,.55,.75,.95,1.15]),(1.45,[-.6,-.4,-.2,0,.2,.4,.6]),(1.52,[-.7,-.4,-.2,0,.2,.4,.65]),
    (1.59,[-.3,-.1,.1,.3,.5,.7]),(1.66,[-.3,-.1,.1,.3,.5,.7]),(1.74,[-.2,0,.2,.4]),(1.82,[-.3,-.1,.1,.3]),(1.9,[-.35,-.15,.05,.25,.4]),(1.98,[-.25,-.05,.15,.3]),(2.06,[-.2,0,.15]),(2.14,[-.3,-.1,.05]),(2.22,[-.35,-.15,.05,.3]),
    (2.3,[-.35,-.15,.05,.3]),(2.38,[-.25,-.05,.1]),(2.46,[-.3,-.1,.1]),
    (-1.35,[-.7,-.5,-.3,-.1,.1,.3,.5,.7]),(-1.29,[-.8,-.6,-.4,-.2,0,.2,.4,.6,.8]),(-1.22,[-.6,-.4,-.2,0,.2,.4,.6]),(-1.15,[-.4,-.2,0,.2,.4]),(-1.0,[-.2,0,.2,.4,.6,.9]),(-.92,[-.4,-.2,0,.2,.4,.6,.8,1,1.2,1.4]),
    (-.85,[-1.2,-1,-.8,-.6,-.4,-.2,0,.2,.4,.6,.8,1,1.2,1.4,1.6,1.8]),(-.78,[-1.3,-1.1,-.9,-.7,-.5,-.3,-.1,.1,.3,.5,.7,.9,1.1,1.3,1.5,1.7,1.9]),(-.71,[-1.3,-1.1,-.9,-.7,-.5,-.3,-.1,.1,.3,.5,.7,.9,1.1,1.3,1.5,1.7,1.9,2.1]),
    (-.64,[-1.2,-1,-.8,-.6,-.4,-.2,0,.2,.4,.6,.8,1,1.2,1.4,1.6]),(-.57,[-.9,-.7,-.5,-.3,-.1,.1,.3,.5,.7,.9,1.1]),(-.5,[-.5,-.3,-.1,.1,.3,.5,.7,.85]),(.44,[-.5,-.3,-.1,.1,.3]),(.58,[-.55,-.35,-.15,.05,.25,.45,.65]),
    (.65,[-.5,-.3,-.1,.1,.3,.5,.7,.9]),(.72,[-.7,-.5,-.3,-.1,.1,.3,.5,.7,.9,1.1]),(.79,[-.8,-.6,-.4,-.2,0,.2,.4,.6,.8,1,1.2]),(.86,[-.85,-.65,-.45,-.25,-.05,.15,.35,.55,.75,.95,1.15,1.35]),(.93,[-1.1,-.9,-.7,-.5,-.3,-.1,.1,.3,.5,.7,.9,1.1,1.3,1.5]),
    (.99,[-1.15,-.95,-.75,-.55,-.35,-.15,.05,.25,.45,.65,.85,1.05,1.25,1.45,1.65]),(1.05,[-1,-.8,-.6,-.4,-.2,0,.2,.4,.6,.8,1,1.2,1.3]),(1.13,[-.7,-.5,-.3,-.1,.1,.3,.5,.7]),(1.28,[-.6,-.4,-.2,0,.2,.4,.6,.8,1]),
    (1.35,[-.6,-.4,-.2,0,.2,.4,.6,.8,1,1.2]),(1.42,[-.5,-.3,-.1,.1,.3,.5,.7,.9]),(1.56,[-.3,-.1,.1,.3,.5]),(1.62,[-.25,-.05,.15,.35,.55])]
longitude_cloud = [(-1.72,[-.3,-.1,.1,.3]),(-1.63,[-.55,-.35,-.15,.05,.25,.45,.65]),(-1.55,[-.7,-.5,-.3,-.1,.1,.3,.5,.7,.9]),(-1.48,[-.9,-.7,-.5,-.3,-.1,.1,.3,.5,.7,.9,1.1,1.3]),
    (-1.41,[-1.2,-1,-.8,-.6,-.4,-.2,0,.2,.4,.6,.8,1,1.2,1.4,1.6]),(-1.34,[-1.2,-1,-.8,-.6,-.4,-.2,0,.2,.4,.6,.8,1,1.2,1.4,1.6,1.75]),(-1.27,[-1.15,-.95,-.75,-.55,-.35,-.15,.05,.25,.45,.65,.85,1.05,1.25,1.45,1.7]),
    (-1.2,[-1.05,-.85,-.65,-.45,-.25,-.05,.15,.35,.55,.75,.95,1.15,1.35,1.55]),(-1.13,[-.85,-.65,-.45,-.25,-.05,.15,.35,.55,.75,.95,1.15,1.3]),(-1.06,[-.8,-.6,-.4,-.2,0,.2,.4,.6,.8,1,1.15]),(-.98,[-.7,-.5,-.3,-.1,.1,.3,.5,.7,.9,1.05]),
    (-.9,[-.6,-.4,-.2,0,.2,.4,.6,.8]),(-.82,[-.55,-.35,-.15,.05,.25,.45,.65,.85]),(-.74,[-.45,-.25,-.05,.15,.35,.55,.75]),(-.66,[-.4,-.2,0,.2,.4,.6]),(-.58,[-.35,-.15,.05,.25,.45,.65]),(-.5,[-.45,-.25,-.05,.15,.35,.55]),
    (-.42,[-.5,-.3,-.1,.1,.3,.5]),(-.34,[-.4,-.2,0,.2,.4]),(-.26,[-.6,-.4,-.2,0,.2,.4]),(-.18,[-.3,-.1,.1,.25]),(-.1,[-.35,-.15,.05,.25,.45]),(-.02,[-.35,-.15,.05,.25,.45]),(.06,[-.3,-.1,.1,.3,.4]),(.14,[-.4,-.2,0,.2,.4,.55]),
    (.22,[-.55,-.35,-.15,.05,.25,.45]),(.3,[-.5,-.3,-.1,.1,.3,.5]),(.38,[-.55,-.35,-.15,.05,.25,.45,.65]),(.46,[-.8,-.6,-.4,-.2,0,.2,.4,.6,.8,1]),(.52,[-1,-.8,-.6,-.4,-.2,0,.2,.4,.6,.8,1,1.2,1.4,1.6]),
    (.58,[-1.3,-1.1,-.9,-.7,-.5,-.3,-.1,.1,.3,.5,.7,.9,1.1,1.3,1.5,1.7,1.9,2.1]),(.65,[-1.35,-1.15,-.95,-.75,-.55,-.35,-.15,.05,.25,.45,.65,.85,1.05,1.25,1.45,1.65,1.85,2.05,2.2]),(.72,[-1.3,-1.1,-.9,-.7,-.5,-.3,-.1,.1,.3,.5,.7,.9,1.1,1.3,1.5,1.7,1.9]),
    (.79,[-1.2,-1,-.8,-.6,-.4,-.2,0,.2,.4,.6,.8,1,1.2,1.4,1.6]),(.86,[-1.15,-.95,-.75,-.55,-.35,-.15,.05,.25,.45,.65,.85,1.05,1.25,1.45]),(.93,[-1,-.8,-.6,-.4,-.2,0,.2,.4,.6,.8,1,1.2]),(1,[-.7,-.5,-.3,-.1,.1,.3,.5,.7,.9,1.1]),
    (1.07,[-.6,-.4,-.2,0,.2,.4,.6,.8]),(1.14,[-.9,-.7,-.5,-.3,-.1,.1,.3,.5,.7,.9,1.1,1.3,1.5,1.7,1.9]),(1.2,[-1,-.8,-.6,-.4,-.2,0,.2,.4,.6,.8,1,1.2,1.5,1.8]),(1.26,[-.95,-.75,-.55,-.35,-.15,.05,.25,.45,.65,.85,1.05]),
    (1.32,[-.6,-.4,-.2,0,.2,.4,.6]),(1.4,[-.2,0,.2,.4,.6]),(1.6,[-.2,0,.15]),(1.68,[-.15,.05]),(2.02,[-.3,-.1,.1]),(-2.26,[-.3,-.15,0,.15]),
    (-1.59,[-.6,-.4,-.2,0,.2,.4,.6,.8]),(-1.52,[-.8,-.6,-.4,-.2,0,.2,.4,.6,.8,1]),(-1.45,[-1,-.8,-.6,-.4,-.2,0,.2,.4,.6,.8,1,1.2,1.4]),(-1.38,[-1.1,-.9,-.7,-.5,-.3,-.1,.1,.3,.5,.7,.9,1.1,1.3,1.5]),(-1.31,[-1.1,-.9,-.7,-.5,-.3,-.1,.1,.3,.5,.7,.9,1.1,1.3,1.5]),
    (-1.24,[-1,-.8,-.6,-.4,-.2,0,.2,.4,.6,.8,1,1.2,1.4]),(-1.16,[-.9,-.7,-.5,-.3,-.1,.1,.3,.5,.7,.9,1.1,1.3]),(-1.09,[-.7,-.5,-.3,-.1,.1,.3,.5,.7,.9,1.1]),(-1.02,[-.6,-.4,-.2,0,.2,.4,.6,.8]),(-.94,[-.5,-.3,-.1,.1,.3,.5,.7]),
    (-.86,[-.45,-.25,-.05,.15,.35,.55,.75]),(-.78,[-.4,-.2,0,.2,.4,.6]),(-.7,[-.35,-.15,.05,.25,.45,.65]),(.55,[-1.2,-1,-.8,-.6,-.4,-.2,0,.2,.4,.6,.8,1,1.2,1.4,1.6,1.8]),(.62,[-1.25,-1.05,-.85,-.65,-.45,-.25,-.05,.15,.35,.55,.75,.95,1.15,1.35,1.55,1.75,1.95]),
    (.68,[-1.25,-1.05,-.85,-.65,-.45,-.25,-.05,.15,.35,.55,.75,.95,1.15,1.35,1.55,1.75]),(.75,[-1.15,-.95,-.75,-.55,-.35,-.15,.05,.25,.45,.65,.85,1.05,1.25,1.45]),(.82,[-1.05,-.85,-.65,-.45,-.25,-.05,.15,.35,.55,.75,.95,1.15,1.35]),
    (.89,[-.9,-.7,-.5,-.3,-.1,.1,.3,.5,.7,.9,1.1]),(.96,[-.8,-.6,-.4,-.2,0,.2,.4,.6,.8,1]),(1.17,[-.8,-.6,-.4,-.2,0,.2,.4,.6,.8,1,1.2,1.4]),(1.23,[-.85,-.65,-.45,-.25,-.05,.15,.35,.55,.75]),(1.29,[-.7,-.5,-.3,-.1,.1,.3,.5,.7])]

# second pass over the solid middle of the two wide panels
medinc_core = [(-1.43,[-.6,-.4,-.2,0,.2,.4]),(-1.3,[-.7,-.5,-.3,-.1,.1,.3,.5]),(-1.18,[-.75,-.55,-.35,-.15,.05,.25,.45,.65]),(-1.06,[-.8,-.6,-.4,-.2,0,.2,.4,.6,.8]),(-.93,[-.9,-.7,-.5,-.3,-.1,.1,.3,.5,.7,.9,1.1]),
    (-.81,[-1,-.8,-.6,-.4,-.2,0,.2,.4,.6,.8,1,1.2,1.4]),(-.68,[-1.05,-.85,-.65,-.45,-.25,-.05,.15,.35,.55,.75,.95,1.15,1.35,1.55]),(-.56,[-1.1,-.9,-.7,-.5,-.3,-.1,.1,.3,.5,.7,.9,1.1,1.3,1.5,1.7]),(-.43,[-1.1,-.9,-.7,-.5,-.3,-.1,.1,.3,.5,.7,.9,1.1,1.3,1.5,1.7,1.9]),
    (-.31,[-1.1,-.9,-.7,-.5,-.3,-.1,.1,.3,.5,.7,.9,1.1,1.3,1.5,1.7,1.9]),(-.18,[-1.1,-.9,-.7,-.5,-.3,-.1,.1,.3,.5,.7,.9,1.1,1.3,1.5,1.7]),(-.06,[-1.1,-.9,-.7,-.5,-.3,-.1,.1,.3,.5,.7,.9,1.1,1.3,1.5,1.7]),(.06,[-1.1,-.9,-.7,-.5,-.3,-.1,.1,.3,.5,.7,.9,1.1,1.3,1.5,1.7]),
    (.18,[-1.15,-.95,-.75,-.55,-.35,-.15,.05,.25,.45,.65,.85,1.05,1.25,1.45,1.65]),(.31,[-1.15,-.95,-.75,-.55,-.35,-.15,.05,.25,.45,.65,.85,1.05,1.25,1.45]),(.43,[-1.1,-.9,-.7,-.5,-.3,-.1,.1,.3,.5,.7,.9,1.1,1.3]),
    (.56,[-1.1,-.9,-.7,-.5,-.3,-.1,.1,.3,.5,.7,.9,1.1,1.3]),(.68,[-1.1,-.9,-.7,-.5,-.3,-.1,.1,.3,.5,.7,.9,1.1,1.3]),(.81,[-1.1,-.9,-.7,-.5,-.3,-.1,.1,.3,.5,.7,.9,1.1,1.3]),(.93,[-1.1,-.9,-.7,-.5,-.3,-.1,.1,.3,.5,.7,.9,1.1,1.3]),
    (1.06,[-1.05,-.85,-.65,-.45,-.25,-.05,.15,.35,.55,.75,.95,1.15]),(1.18,[-.95,-.75,-.55,-.35,-.15,.05,.25,.45,.65,.85,1.05]),(1.31,[-.85,-.65,-.45,-.25,-.05,.15,.35,.55,.75,.95,1.15]),(1.43,[-.65,-.45,-.25,-.05,.15,.35,.55,.75,.95]),
    (1.56,[-.55,-.35,-.15,.05,.25,.45,.65,.85]),(1.68,[-.5,-.3,-.1,.1,.3,.5,.7,.9]),(1.81,[-.45,-.25,-.05,.15,.35,.55,.75,.95]),(1.93,[-.4,-.2,0,.2,.4,.6,.8]),(2.06,[-.3,-.1,.1,.3,.5,.7]),(2.18,[-.2,0,.2,.4,.6,.8])]
houseage_core = [(-1.91,[-.3,-.1,.1,.3,.5]),(-1.75,[-.4,-.2,0,.2,.4,.6]),(-1.59,[-.4,-.2,0,.2,.4,.6]),(-1.51,[-.4,-.2,0,.2,.4,.6]),(-1.36,[-.4,-.2,0,.2,.4,.6,.8]),(-1.28,[-.5,-.3,-.1,.1,.3,.5,.7]),(-1.2,[-.6,-.4,-.2,0,.2,.4,.6,.8]),
    (-1.12,[-.6,-.4,-.2,0,.2,.4,.6,.8]),(-1.04,[-.6,-.4,-.2,0,.2,.4,.6,.8,1]),(-.96,[-.6,-.4,-.2,0,.2,.4,.6,.8]),(-.88,[-.7,-.5,-.3,-.1,.1,.3,.5,.7,.9]),(-.8,[-.7,-.5,-.3,-.1,.1,.3,.5,.7,.9,1.1]),(-.72,[-.7,-.5,-.3,-.1,.1,.3,.5,.7,.9,1.1]),
    (-.64,[-.7,-.5,-.3,-.1,.1,.3,.5,.7,.9,1.1]),(-.56,[-.6,-.4,-.2,0,.2,.4,.6,.8,1]),(-.48,[-.7,-.5,-.3,-.1,.1,.3,.5,.7,.9]),(-.4,[-.7,-.5,-.3,-.1,.1,.3,.5,.7,.9]),(-.32,[-.7,-.5,-.3,-.1,.1,.3,.5,.7,.9,1.1]),(-.24,[-.7,-.5,-.3,-.1,.1,.3,.5,.7,.9,1.1]),
    (-.16,[-.7,-.5,-.3,-.1,.1,.3,.5,.7,.9]),(-.08,[-.6,-.4,-.2,0,.2,.4,.6,.8]),(0,[-.6,-.4,-.2,0,.2,.4,.6,.8]),(.08,[-.7,-.5,-.3,-.1,.1,.3,.5,.7]),(.16,[-.8,-.6,-.4,-.2,0,.2,.4,.6,.8]),(.24,[-.7,-.5,-.3,-.1,.1,.3,.5,.7]),
    (.32,[-.7,-.5,-.3,-.1,.1,.3,.5,.7,.9]),(.4,[-.8,-.6,-.4,-.2,0,.2,.4,.6,.8,1,1.2]),(.48,[-.8,-.6,-.4,-.2,0,.2,.4,.6,.8,1,1.2]),(.56,[-.8,-.6,-.4,-.2,0,.2,.4,.6,.8,1,1.2,1.4]),(.64,[-.8,-.6,-.4,-.2,0,.2,.4,.6,.8,1,1.2]),
    (.72,[-.7,-.5,-.3,-.1,.1,.3,.5,.7,.9,1.1]),(.8,[-.6,-.4,-.2,0,.2,.4,.6,.8]),(.88,[-.6,-.4,-.2,0,.2,.4,.6,.8]),(.96,[-.7,-.5,-.3,-.1,.1,.3,.5,.7]),(1.04,[-.6,-.4,-.2,0,.2,.4,.6]),(1.12,[-.6,-.4,-.2,0,.2,.4,.6]),
    (1.2,[-.7,-.5,-.3,-.1,.1,.3,.5]),(1.28,[-.8,-.6,-.4,-.2,0,.2,.4]),(1.36,[-.6,-.4,-.2,0,.2,.4]),(1.44,[-.7,-.5,-.3,-.1,.1,.3,.5]),(1.52,[-.5,-.3,-.1,.1,.3]),(1.6,[-.5,-.3,-.1,.1,.3]),(1.68,[-.5,-.3,-.1,.1,.3,.5]),(1.76,[-.6,-.4,-.2,0,.2])]

xlims = [(-2.17,6.27),(-2.395,2.065),(-5.26,63.05),(-5.97,90.9),(-1.945,13.63),(-.86,12.28),(-1.673,3.10),(-2.536,2.733)]
points = [medinc_points, houseage_points, averooms_points, avebedrms_points, population_points, aveoccup_points, latitude_points, longitude_points]
clouds = [medinc_cloud + medinc_core, houseage_cloud + houseage_core, averooms_cloud, avebedrms_cloud, population_cloud, aveoccup_cloud, latitude_cloud, longitude_cloud]

fig, axes = plt.subplots(2, 4, figsize=(4769 / 300, 1769 / 300), dpi=300)
fig.subplots_adjust(left=180 / 4769, right=4741 / 4769, top=1 - 93 / 1769, bottom=1 - 1608 / 1769, wspace=0.199, hspace=0.372)

for ax, name, pts, cloud, xlim in zip(axes.flat, features, points, clouds, xlims):
    xs = [p[0] for p in pts]
    ys = [p[1] for p in pts]
    for x, col in cloud:
        xs += [x] * len(col)
        ys += col
    ax.scatter(xs, ys, alpha=0.6)
    ax.axhline(y=0, color="r", linestyle="--")
    ax.set_xlim(xlim)
    ax.set_ylim(-2.94, 4.34)
    ax.set_xlabel(name)
    ax.set_ylabel("Residuals")
    ax.set_title("Residuals vs " + name)
    ax.grid(True, alpha=0.3)

fig.savefig("out.png", dpi=300)
